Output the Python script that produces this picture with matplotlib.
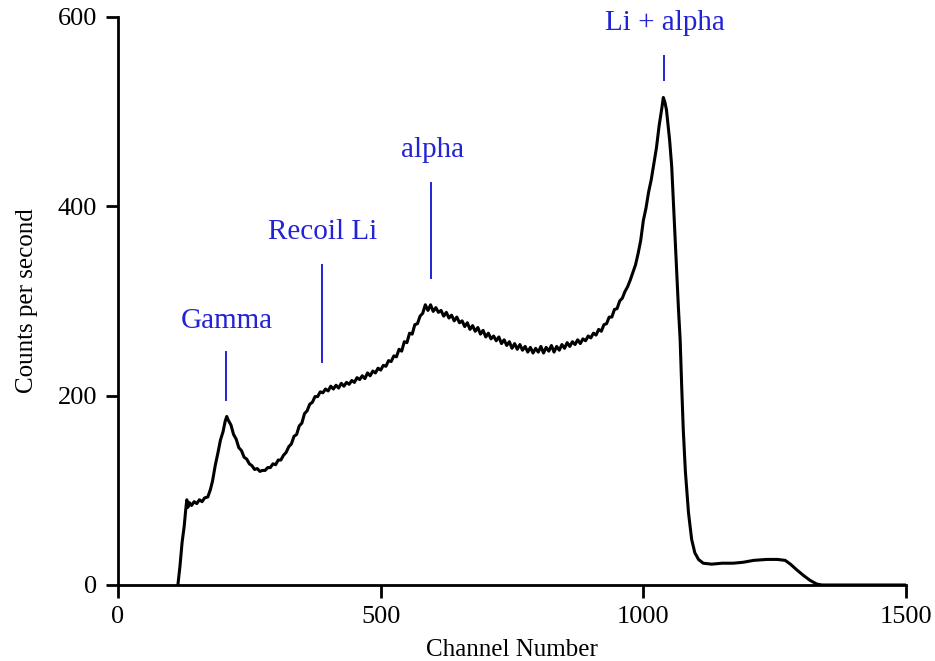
"""
Pulse-height spectrum of a neutron detector: count rate against channel number,
with the gamma, recoil Li, alpha and Li + alpha features marked.
"""

import matplotlib
matplotlib.use("Agg")
import matplotlib.pyplot as plt

plt.rcParams["font.family"] = ["Liberation Serif", "DejaVu Serif"]

# Spectrum read channel by channel (counts per second)
channels = [
    114, 118, 122, 126, 129, 131, 133, 136, 140, 145, 150, 155, 160, 165, 171,
    176, 180, 185, 190, 195, 200, 204, 207, 210, 215, 220, 225, 230, 235, 240,
    245, 250, 255, 260, 265, 270, 275, 280, 285, 290, 295, 300, 305, 310, 315,
    320, 325, 330, 335, 340, 345, 350, 355, 360, 365, 370, 375, 380, 385, 390,
    395, 400, 405, 410, 415, 420, 425, 430, 435, 440, 445, 450, 455, 460, 465,
    470, 475, 480, 485, 490, 495, 500, 505, 510, 515, 520, 525, 530, 535, 540,
    545, 550, 555, 560, 565, 570, 575, 580, 585, 590, 595, 600, 605, 610, 615,
    620, 625, 630, 635, 640, 645, 650, 655, 660, 665, 670, 675, 680, 685, 690,
    695, 700, 705, 710, 715, 720, 725, 730, 735, 740, 745, 750, 755, 760, 765,
    770, 775, 780, 785, 790, 795, 800, 805, 810, 815, 820, 825, 830, 835, 840,
    845, 850, 855, 860, 865, 870, 875, 880, 885, 890, 895, 900, 905, 910, 915,
    920, 925, 930, 935, 940, 945, 950, 955, 960, 965, 970, 975, 980, 985, 990,
    995, 1000, 1005, 1010, 1015, 1020, 1025, 1030, 1035, 1038, 1041, 1044, 1050,
    1054, 1058, 1063, 1067, 1070, 1073, 1076, 1080, 1086, 1092, 1098, 1105, 1114,
    1130, 1150, 1171, 1190, 1210, 1235, 1255, 1270, 1280, 1292, 1305, 1317, 1330,
    1340, 1400, 1500,
]
counts = [
    0, 20, 45, 62, 80, 90, 82, 87, 84, 88, 86, 90, 88, 92, 93,
    101, 110, 126, 139, 153, 162, 173, 178, 174, 169, 159, 154, 145, 142, 135,
    133, 128, 126, 122, 123, 120, 121, 121, 124, 124, 128, 127, 132, 132, 137,
    140, 146, 149, 157, 159, 168, 171, 181, 184, 191, 193, 199, 199, 204, 203,
    207, 205, 210, 207, 211, 208, 213, 210, 214, 212, 216, 214, 219, 217, 221,
    218, 224, 221, 226, 224, 229, 227, 232, 231, 237, 236, 242, 241, 249, 247,
    257, 256, 266, 265, 275, 276, 284, 287, 296, 290, 296, 289, 293, 288, 290,
    284, 288, 282, 285, 279, 283, 277, 279, 273, 277, 270, 274, 268, 272, 265,
    269, 262, 266, 260, 263, 258, 262, 255, 259, 253, 257, 250, 255, 249, 254,
    248, 252, 246, 251, 245, 250, 246, 252, 245, 251, 247, 253, 246, 252, 248,
    254, 250, 256, 252, 257, 254, 259, 255, 260, 258, 263, 261, 266, 264, 270,
    268, 275, 276, 283, 283, 291, 292, 300, 303, 310, 315, 322, 330, 338, 350,
    364, 385, 398, 415, 428, 445, 462, 485, 503, 515, 510, 502, 470,
    442, 395, 336, 290, 260, 210, 164, 120, 76, 48, 34, 27, 23,
    22, 23, 23, 24, 26, 27, 27, 26, 22, 16, 10, 5, 1,
    0, 0, 0,
]

# Peak labels: name, channel of the marker, marker bottom/top, text height
peak_names = ["Gamma", "Recoil Li", "alpha", "Li + alpha"]
peak_channels = [206, 388, 596, 1039]
marker_low = [195, 236, 324, 533]
marker_high = [246, 338, 425, 559]
label_heights = [265, 359, 446, 580]

fig = plt.figure(figsize=(9.35, 6.61), dpi=100)
ax = fig.add_axes([0.1262, 0.115, 0.8428, 0.8593])

ax.plot(channels, counts, color="black", linewidth=2.2, solid_joinstyle="round")

blue = "#2222d6"
for name, ch, lo, hi, ty in zip(peak_names, peak_channels, marker_low,
                                marker_high, label_heights):
    ax.plot([ch, ch], [lo, hi], color=blue, linewidth=1.4)
    ax.text(ch + 2, ty, name, color=blue, fontsize=21, ha="center", va="bottom",
            clip_on=False)

ax.set_xlim(0, 1500)
ax.set_ylim(0, 600)
ax.set_xticks([0, 500, 1000, 1500])
ax.set_yticks([0, 200, 400, 600])

for side in ("top", "right"):
    ax.spines[side].set_visible(False)
for side in ("left", "bottom"):
    ax.spines[side].set_linewidth(2.0)

ax.tick_params(direction="out", length=9, width=2.0, labelsize=19, pad=6,
               colors="black")
ax.set_xlabel("Channel Number", fontsize=18, labelpad=8)
ax.set_ylabel("Counts per second", fontsize=18, labelpad=14)

fig.savefig("out.png", dpi=100)
